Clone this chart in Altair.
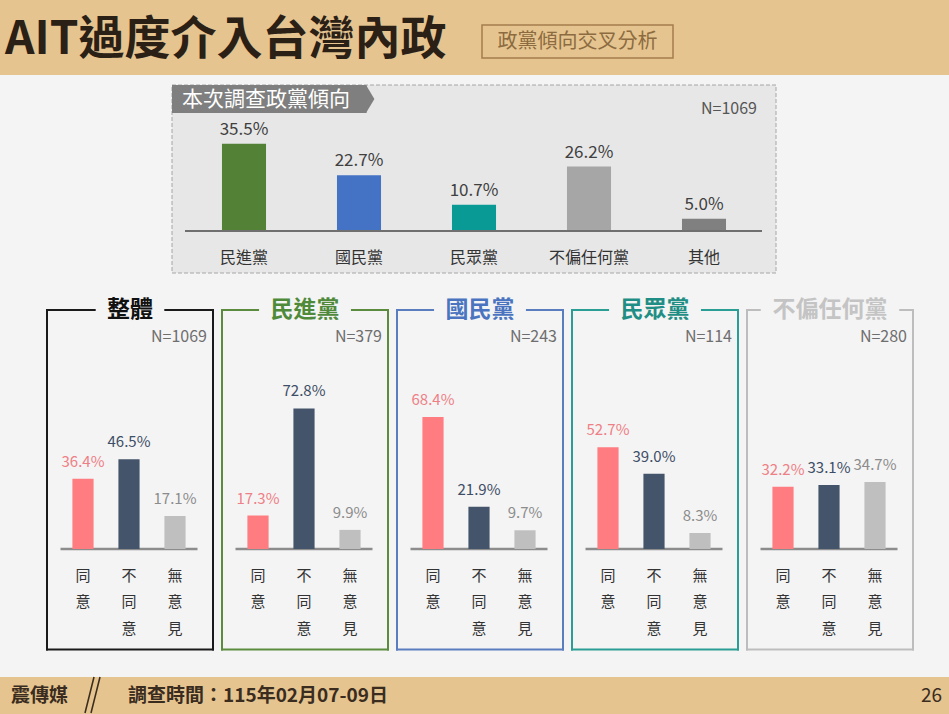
import altair as alt
import pandas as pd

# ---------------- data ----------------
overall_parties = ["民進黨", "國民黨", "民眾黨", "不偏任何黨", "其他"]
overall_share = [35.5, 22.7, 10.7, 26.2, 5.0]
overall_n = 1069

groups = ["整體", "民進黨", "國民黨", "民眾黨", "不偏任何黨"]
group_n = [1069, 379, 243, 114, 280]
answers = ["同意", "不同意", "無意見"]
agree = [36.4, 17.3, 68.4, 52.7, 32.2]
disagree = [46.5, 72.8, 21.9, 39.0, 33.1]
no_opinion = [17.1, 9.9, 9.7, 8.3, 34.7]

title_text = "AIT過度介入台灣內政"
subtitle_text = "政黨傾向交叉分析"
panel_title = "本次調查政黨傾向"
footer_source = "震傳媒"
footer_date = "調查時間：115年02月07-09日"
page_no = "26"

# ---------------- styles ----------------
FONT = "Noto Sans CJK TC"
W, H = 949, 714
BG = "#F4F4F4"
TAN = "#E5C48F"
DARK = "#2B2015"
party_colors = ["#538135", "#4472C4", "#0A9A96", "#A6A6A6", "#808080"]
answer_colors = ["#FF7C80", "#44546A", "#BFBFBF"]
answer_label_colors = ["#EF7F86", "#3E4E66", "#8C8C8C"]
frame_colors = ["#1A1A1A", "#5B8C3E", "#5A7DBF", "#2A9D94", "#BDBDBD"]
title_colors = ["#111111", "#4F8A3A", "#4A74C0", "#1F8E84", "#C4C4C4"]

one = pd.DataFrame({"k": [0]})


def rect(x, x2, y, y2, **kw):
    return alt.Chart(one).mark_rect(**kw).encode(
        x=alt.value(x), x2=alt.value(x2), y=alt.value(y), y2=alt.value(y2))


def label(txt, x, y, **kw):
    kw.setdefault("font", FONT)
    kw.setdefault("baseline", "middle")
    return alt.Chart(one).mark_text(text=txt, **kw).encode(
        x=alt.value(x), y=alt.value(y))


def seg(x, y, x2, y2, **kw):
    return alt.Chart(one).mark_rule(**kw).encode(
        x=alt.value(x), y=alt.value(y), x2=alt.value(x2), y2=alt.value(y2))


layers = []

# header & footer
layers.append(rect(0, W, 0, 75, color=TAN))
layers.append(label(title_text, 5, 54, fontSize=46, fontWeight="bold",
                    color=DARK, align="left", baseline="alphabetic"))
layers.append(rect(482, 673, 25, 58, fill=TAN, stroke="#A47E4D", strokeWidth=1.5))
layers.append(label(subtitle_text, 577.5, 41.5, fontSize=20, color="#8C6B40",
                    align="center"))
layers.append(rect(0, W, 677, H, color=TAN))
layers.append(label(footer_source, 11, 696, fontSize=19, fontWeight="bold",
                    color="#3A2C1E", align="left"))
layers.append(seg(85, 713, 94, 677, color="#3A2C1E", strokeWidth=1.5))
layers.append(seg(91, 713, 100, 677, color="#3A2C1E", strokeWidth=1.5))
layers.append(label(footer_date, 128, 696, fontSize=19, fontWeight="bold",
                    color="#3A2C1E", align="left"))
layers.append(label(page_no, 942, 696, fontSize=19, color="#3A2C1E", align="right"))

# ---------------- top panel ----------------
layers.append(rect(172, 776, 85, 273, fill="#E7E7E7", stroke="#A6A6A6",
                   strokeDash=[4, 2], strokeWidth=1))
layers.append(rect(172, 366.5, 85, 113, color="#7F7F7F"))
layers.append(alt.Chart(one).mark_point(
    shape="M0,-1L0.6,0L0,1Z", filled=True, size=784, color="#7F7F7F",
    opacity=1, strokeWidth=0).encode(x=alt.value(366), y=alt.value(99)))
layers.append(label(panel_title, 182, 99.5, fontSize=21, color="white", align="left"))
layers.append(label(f"N={overall_n}", 757, 109, fontSize=16, color="#555555",
                    align="right"))

top_df = pd.DataFrame({"party": overall_parties, "share": overall_share})
top_df["txt"] = [f"{v:.1f}%" for v in overall_share]
tx = alt.X("party:N", sort=overall_parties, axis=None,
           scale=alt.Scale(domain=overall_parties, range=[186.5, 761.5],
                           paddingInner=0.617, paddingOuter=0.3085))
ty = alt.Y("share:Q", axis=None,
           scale=alt.Scale(domain=[0, 40], range=[231, 132.6], nice=False, zero=True))
top_bars = alt.Chart(top_df).mark_bar().encode(
    x=tx, y=ty,
    color=alt.Color("party:N", scale=alt.Scale(domain=overall_parties, range=party_colors),
                    legend=None))
top_vals = alt.Chart(top_df).mark_text(
    font=FONT, fontSize=17, color="#404040", baseline="middle", dy=-14
).encode(x=tx, y=ty, text="txt:N")
top_cats = alt.Chart(top_df).mark_text(
    font=FONT, fontSize=16, color="#333333", baseline="middle"
).encode(x=tx, y=alt.value(258), text="party:N")
top_base = seg(185, 231, 762, 231, color="#6F6F6F", strokeWidth=2)
layers.append(alt.layer(top_bars, top_base, top_vals, top_cats))

# ---------------- bottom panels ----------------
G0, GSTEP = 41.5, 175.0
BASE_Y = 549
for k, g in enumerate(groups):
    c = G0 + GSTEP / 2 + GSTEP * k
    f = c + 1
    left, right = f - 83, f + 83
    top, bottom = 310, 649.5
    tw = 23.3 * len(g)
    col = frame_colors[k]
    kw = dict(color=col, strokeWidth=2, strokeCap="square")
    layers.append(seg(left, top, left, bottom, **kw))
    layers.append(seg(right, top, right, bottom, **kw))
    layers.append(seg(left, bottom, right, bottom, **kw))
    layers.append(seg(left, top, f - tw / 2 - 12, top, **kw))
    layers.append(seg(f + tw / 2 + 12, top, right, top, **kw))
    layers.append(label(g, f, 310, fontSize=23, fontWeight="bold",
                        color=title_colors[k], align="center"))
    layers.append(label(f"N={group_n[k]}", right - 6, 337, fontSize=16,
                        color="#6E6E6E", align="right"))
    layers.append(seg(c - 68.5, BASE_Y, c + 68.5, BASE_Y, color="#8C8C8C",
                      strokeWidth=2.5))

rows = []
for k, g in enumerate(groups):
    for a, vals in zip(answers, [agree, disagree, no_opinion]):
        rows.append({"group": g, "answer": a, "value": vals[k],
                     "txt": f"{vals[k]:.1f}%", "lab": "\n".join(a)})
bdf = pd.DataFrame(rows)

bx = alt.X("group:N", sort=groups, axis=None,
           scale=alt.Scale(domain=groups, range=[G0, G0 + GSTEP * 5],
                           paddingInner=0.2114, paddingOuter=0.1057))
bxo = alt.XOffset("answer:N", sort=answers,
                  scale=alt.Scale(domain=answers, paddingInner=0.54, paddingOuter=0.27))
by = alt.Y("value:Q", axis=None,
           scale=alt.Scale(domain=[0, 80], range=[BASE_Y, BASE_Y - 154.4],
                           nice=False, zero=True))
b_bars = alt.Chart(bdf).mark_bar().encode(
    x=bx, xOffset=bxo, y=by,
    color=alt.Color("answer:N", scale=alt.Scale(domain=answers, range=answer_colors),
                    legend=None))
b_vals = alt.Chart(bdf).mark_text(
    font=FONT, fontSize=15, baseline="middle", dy=-17
).encode(x=bx, xOffset=bxo, y=by, text="txt:N",
         color=alt.Color("answer:N", legend=None,
                         scale=alt.Scale(domain=answers, range=answer_label_colors)))
b_cats = alt.Chart(bdf).mark_text(
    font=FONT, fontSize=15, baseline="top", lineBreak="\n", lineHeight=26.7,
    color="#333333"
).encode(x=bx, xOffset=bxo, y=alt.value(568.5), text="lab:N")
layers.append(alt.layer(b_bars, b_vals, b_cats).resolve_scale(color="independent"))

chart = alt.layer(*layers).resolve_scale(
    x="independent", y="independent", color="independent"
).properties(
    width=W, height=H, padding=0, background=BG,
    autosize=alt.AutoSizeParams(type="none"),
).configure_view(stroke=None)

chart.save("out.html", embed_options={"renderer": "svg", "actions": False})
